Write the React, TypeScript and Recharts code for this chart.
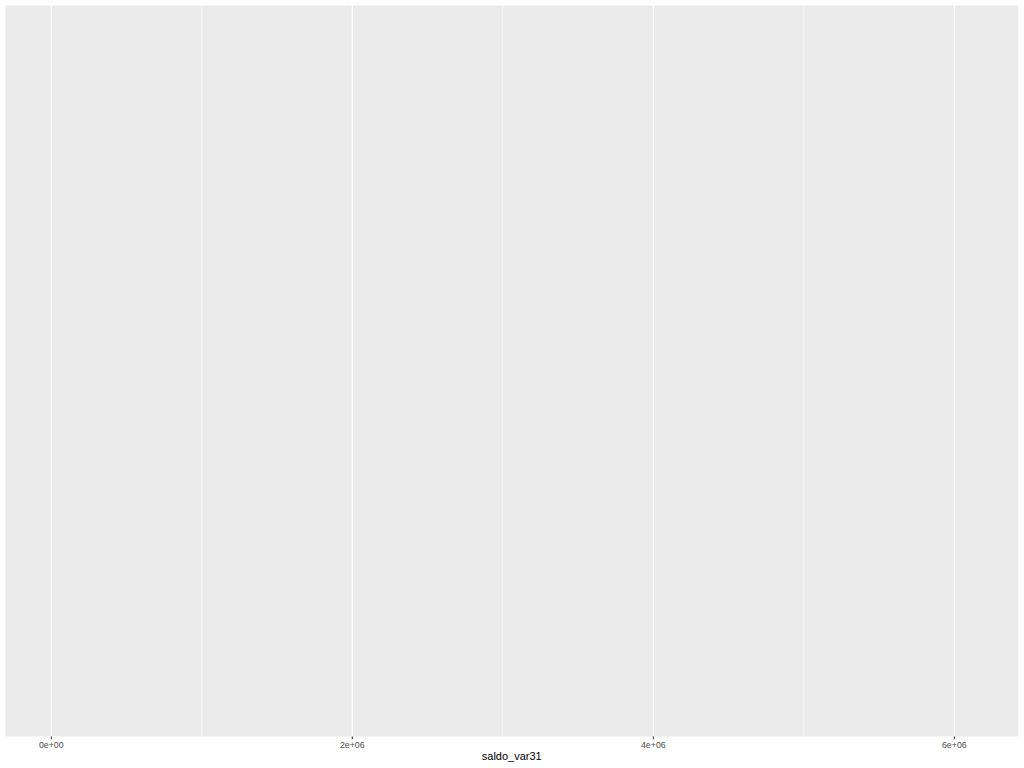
import React from "react";
import { ScatterChart, Scatter, XAxis, YAxis, CartesianGrid } from "recharts";

// No observations are drawn in the reference: the panel is empty.
const points: { saldo_var31: number; y: number }[] = [];
const xDomain = [-304300, 6423000];
const majorTicks = [0, 2000000, 4000000, 6000000];
const minorTicks = [1000000, 3000000, 5000000];
const tickLabels = ["0e+00", "2e+06", "4e+06", "6e+06"];

const fmt = (v: number) => {
  const i = majorTicks.indexOf(v);
  return i >= 0 ? tickLabels[i] : String(v);
};

const Tick = (props: any) => {
  const { x, y, payload } = props;
  return (
    <text
      x={x}
      y={y}
      dy="0.71em"
      textAnchor="middle"
      fontSize={8.8}
      fill="#4D4D4D"
      fontFamily="'Liberation Sans', Arial, sans-serif"
    >
      {fmt(payload.value)}
    </text>
  );
};

const makeGen = (vals: number[]) => (props: any) => {
  const { xAxis, offset } = props || {};
  if (xAxis && typeof xAxis.scale === "function") {
    return vals.map((v) => xAxis.scale(v));
  }
  const left = offset?.left ?? 5.5;
  const w = offset?.width ?? 1012.5;
  return vals.map((v) => left + ((v - xDomain[0]) / (xDomain[1] - xDomain[0])) * w);
};

export default function App() {
  return (
    <div style={{ position: "absolute", left: 0, top: 0, width: 1024, height: 768, background: "#FFFFFF" }}>
      <ScatterChart
        width={1024}
        height={768}
        margin={{ top: 5.5, left: 5.5, right: 6, bottom: 0 }}
      >
        <CartesianGrid
          fill="#EBEBEB"
          stroke="#FFFFFF"
          strokeWidth={0.53}
          horizontal={false}
          vertical
          verticalCoordinatesGenerator={makeGen(minorTicks)}
        />
        <CartesianGrid
          stroke="#FFFFFF"
          strokeWidth={1.07}
          horizontal={false}
          vertical
          verticalCoordinatesGenerator={makeGen(majorTicks)}
        />
        <XAxis
          type="number"
          dataKey="saldo_var31"
          domain={xDomain}
          allowDataOverflow
          ticks={majorTicks}
          height={31.5}
          tickSize={2.75}
          tickMargin={2.2}
          axisLine={false}
          tickLine={{ stroke: "#333333", strokeWidth: 1.07 }}
          tick={<Tick />}
          label={{
            value: "saldo_var31",
            position: "insideBottom",
            offset: 8,
            fontSize: 11,
            fill: "#000000",
            fontFamily: "'Liberation Sans', Arial, sans-serif",
          }}
        />
        <YAxis type="number" dataKey="y" domain={[0, 1]} hide />
        <Scatter data={points} fill="#000000" isAnimationActive={false} />
      </ScatterChart>
    </div>
  );
}
